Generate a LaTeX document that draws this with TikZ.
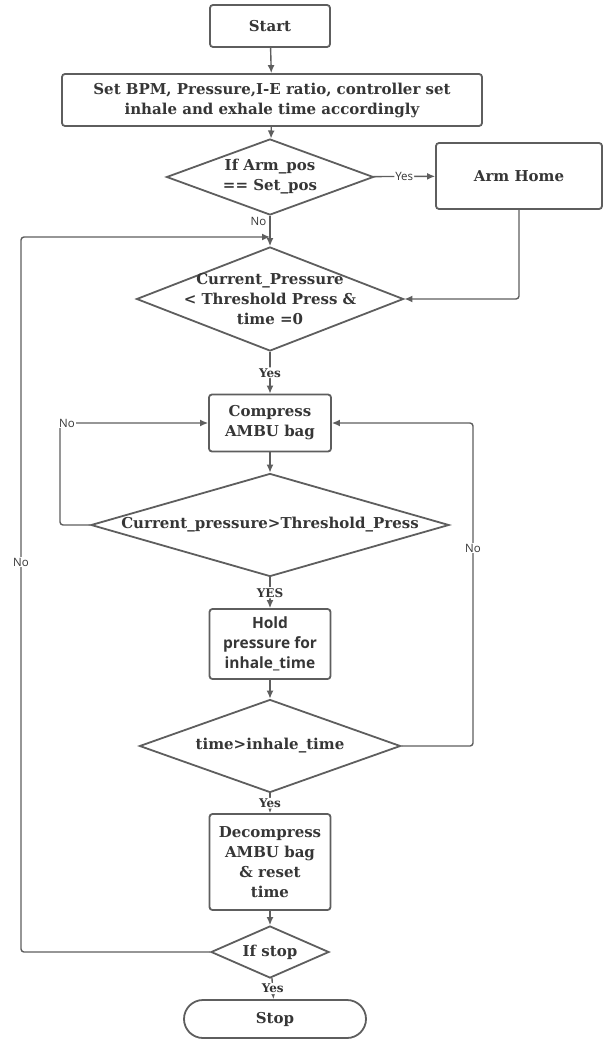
\documentclass[tikz,border=0pt]{standalone}
\usepackage{fontspec}
\setmainfont{DejaVu Serif}
\setsansfont{Open Sans}
\usetikzlibrary{arrows.meta,shapes.geometric,positioning}
\definecolor{ln}{HTML}{5E5E5E}
\definecolor{txt}{HTML}{363636}

\begin{document}
\begin{tikzpicture}[x=1pt,y=-1pt,>={Latex[length=8pt,width=7pt]},line width=1.4pt,
 every node/.style={text=txt,font=\fontsize{15}{20}\bfseries\selectfont},
 box/.style={draw=ln,line width=1.8pt,rounded corners=3pt,align=center,inner sep=0pt},
 dec/.style={draw=ln,line width=1.8pt,shape=diamond,inner sep=0pt},
 dtxt/.style={align=center,inner sep=0pt},
 flow/.style={draw=ln,->,rounded corners=3pt},
 yes/.style={fill=white,inner sep=1pt,font=\fontsize{12}{13}\bfseries\selectfont},
 no/.style={fill=white,inner sep=1pt,font=\sffamily\fontsize{11.5}{12}\selectfont}]
\useasboundingbox (0,0) rectangle (612,1040);
\node[box,minimum width=120,minimum height=42] (start) at (270,26) {Start};
\node[box,minimum width=420,minimum height=52] (set) at (272,100) {Set BPM, Pressure,I-E ratio, controller set\\inhale and exhale time accordingly};
\node[dec,minimum width=207,minimum height=76] (armq) at (270,177) {};
\node[dtxt] (armqt) at (armq) {If Arm\_pos\\== Set\_pos};
\node[box,minimum width=166,minimum height=66] (home) at (519,176) {Arm Home};
\node[dec,minimum width=267,minimum height=104] (curq) at (270,299) {};
\node[dtxt] (curqt) at (curq) {Current\_Pressure\\< Threshold Press \&\\time =0};
\node[box,minimum width=122,minimum height=57] (comp) at (270,423) {Compress\\AMBU bag};
\node[dec,minimum width=358,minimum height=103] (presq) at (270,525) {};
\node[dtxt] (presqt) at (presq) {Current\_pressure>Threshold\_Press};
\node[box,minimum width=121,minimum height=70,font=\sffamily\fontsize{15.5}{20}\bfseries\selectfont] (hold) at (270,644) {Hold\\pressure for\\inhale\_time};
\node[dec,minimum width=261,minimum height=93] (timeq) at (270,746) {};
\node[dtxt] (timeqt) at (timeq) {time>inhale\_time};
\node[box,minimum width=121,minimum height=96] (decomp) at (270,862) {Decompress\\AMBU bag\\\& reset\\time};
\node[dec,minimum width=118,minimum height=52] (stopq) at (270,952) {};
\node[dtxt] (stopqt) at (stopq) {If stop};
\node[box,rounded corners=19pt,minimum width=182,minimum height=38] (stop) at (275,1019) {Stop};
\coordinate (jn) at (270,237);\coordinate (lt) at (21,237);
\coordinate (nl) at (60,423);\coordinate (nr) at (473,423);
\draw[flow] (start) -- (set);
\draw[flow] (set) -- (armq);
\draw[flow] (armq) -- node[no]{Yes} (home);
\draw[flow] (armq) -- node[no,pos=.2,left,xshift=-2pt]{No} (curq);
\draw[flow] (home) |- (curq);
\draw[flow] (stopq) -| (lt) -- (jn);
\node[no] (nob) at (21,562) {No};
\draw[flow] (curq) -- node[yes,pos=.5]{Yes} (comp);
\draw[flow] (comp) -- (presq);
\draw[flow] (presq) -| (nl) -- (comp);
\node[no] (nol) at (67,423) {No};
\draw[flow] (presq) -- node[yes]{YES} (hold);
\draw[flow] (hold) -- (timeq);
\draw[flow] (timeq) -| (nr) -- (comp);
\node[no] (nor) at (473,548) {No};
\draw[flow] (timeq) -- node[yes]{Yes} (decomp);
\draw[flow] (decomp) -- (stopq);
\draw[flow] (stopq) -- node[yes]{Yes} (stop);
\end{tikzpicture}
\end{document}
